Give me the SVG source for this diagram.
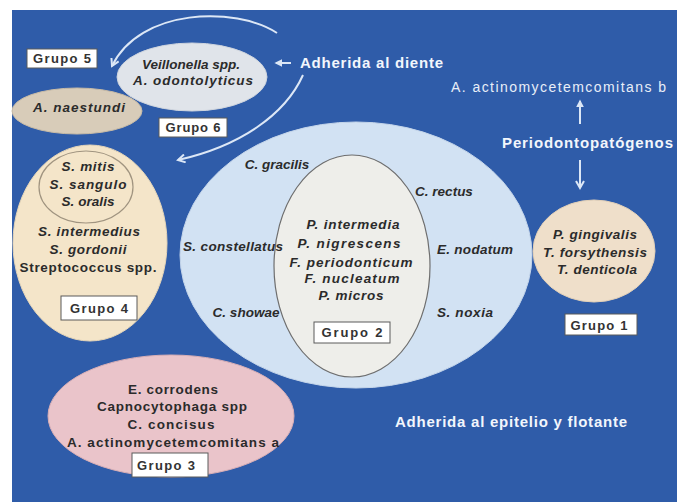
<svg xmlns="http://www.w3.org/2000/svg" width="677" height="502" viewBox="0 0 677 502">
<style>
.bg{fill:#2f5ca9}
.sp{font-family:"Liberation Sans",Arial,sans-serif;font-weight:bold;font-style:italic;font-size:13.5px;fill:#2b2b2b;text-anchor:middle}
.up{font-style:normal}
.wt{font-family:"Liberation Sans",Arial,sans-serif;font-weight:bold;font-size:15px;fill:#f2f6fc}
.wl{font-family:"Liberation Sans",Arial,sans-serif;font-size:14px;fill:#e8eef8}
.box{fill:#fff;stroke:#5a5a5a;stroke-width:1}
.gl{font-family:"Liberation Sans",Arial,sans-serif;font-weight:bold;font-size:13px;fill:#333;text-anchor:middle}
.conn{fill:none;stroke:#dce7f6;stroke-width:2}
</style>
<defs>
<marker id="chev" viewBox="0 0 10 10" refX="8" refY="5" markerWidth="5" markerHeight="5" orient="auto" markerUnits="strokeWidth">
<path d="M1,1 L8,5 L1,9" fill="none" stroke="#dce7f6" stroke-width="2"/>
</marker>
<marker id="tri" viewBox="0 0 10 10" refX="8" refY="5" markerWidth="4" markerHeight="4" orient="auto" markerUnits="strokeWidth">
<path d="M0,0 L10,5 L0,10 Z" fill="#dce7f6"/>
</marker>
</defs>
<rect x="0" y="0" width="677" height="502" fill="#fff"/>
<rect class="bg" x="12" y="10" width="665" height="492"/>

<g id="grupo2">
<ellipse cx="356" cy="255" rx="176" ry="133" fill="#d2e2f3" stroke="#c4d5ea" stroke-width="1"/>
<ellipse cx="352" cy="266" rx="78" ry="111" fill="#eeeeea" stroke="#6e6e6e" stroke-width="1.2"/>
<text class="sp" x="277" y="169">C. gracilis</text>
<text class="sp" x="444" y="196">C. rectus</text>
<text class="sp" x="233" y="251" textLength="100" lengthAdjust="spacing">S. constellatus</text>
<text class="sp" x="475" y="254" textLength="76" lengthAdjust="spacing">E. nodatum</text>
<text class="sp" x="246" y="317" textLength="67" lengthAdjust="spacing">C. showae</text>
<text class="sp" x="465" y="317" textLength="56" lengthAdjust="spacing">S. noxia</text>
<text class="sp" x="353" y="229" textLength="93" lengthAdjust="spacing">P. intermedia</text>
<text class="sp" x="349" y="248" textLength="103" lengthAdjust="spacing">P. nigrescens</text>
<text class="sp" x="351" y="267" textLength="123" lengthAdjust="spacing">F. periodonticum</text>
<text class="sp" x="352" y="283" textLength="95" lengthAdjust="spacing">F. nucleatum</text>
<text class="sp" x="351" y="300" textLength="65" lengthAdjust="spacing">P. micros</text>
<rect class="box" x="314" y="322" width="76" height="21"/>
<text class="gl" x="352" y="337" textLength="61" lengthAdjust="spacing">Grupo 2</text>
</g>

<g id="grupo4">
<ellipse cx="90" cy="243" rx="77" ry="98" fill="#f4e5c9" stroke="#e6d6b8" stroke-width="1"/>
<ellipse cx="86" cy="187" rx="47" ry="36" fill="#f4e5c9" stroke="#a09480" stroke-width="1.2"/>
<text class="sp" x="88" y="171" textLength="53" lengthAdjust="spacing">S. mitis</text>
<text class="sp" x="88" y="189" textLength="77" lengthAdjust="spacing">S. sangulo</text>
<text class="sp" x="88" y="206" textLength="53" lengthAdjust="spacing">S. oralis</text>
<text class="sp" x="89" y="236" textLength="102" lengthAdjust="spacing">S. intermedius</text>
<text class="sp" x="88" y="254" textLength="77" lengthAdjust="spacing">S. gordonii</text>
<text class="sp up" x="88" y="272" textLength="137" lengthAdjust="spacing">Streptococcus spp.</text>
<rect class="box" x="61" y="296" width="76" height="24"/>
<text class="gl" x="99" y="313" textLength="58" lengthAdjust="spacing">Grupo 4</text>
</g>

<g id="grupo3">
<ellipse cx="171" cy="416" rx="123" ry="61" fill="#eac4ca" stroke="#d8aeb5" stroke-width="1"/>
<text class="sp up" x="173" y="394" textLength="90" lengthAdjust="spacing">E. corrodens</text>
<text class="sp up" x="172" y="411" textLength="150" lengthAdjust="spacing">Capnocytophaga spp</text>
<text class="sp up" x="171" y="429" textLength="87" lengthAdjust="spacing">C. concisus</text>
<text class="sp up" x="173" y="447" textLength="212" lengthAdjust="spacing">A.  actinomycetemcomitans  a</text>
<rect class="box" x="132" y="453" width="76" height="24"/>
<text class="gl" x="166" y="470" textLength="58" lengthAdjust="spacing">Grupo 3</text>
</g>

<g id="grupo1">
<ellipse cx="594" cy="251" rx="61" ry="51" fill="#efdfca" stroke="#e2d0b8" stroke-width="1"/>
<text class="sp" x="595" y="239" textLength="84" lengthAdjust="spacing">P. gingivalis</text>
<text class="sp" x="595" y="257" textLength="104" lengthAdjust="spacing">T. forsythensis</text>
<text class="sp" x="597" y="274" textLength="80" lengthAdjust="spacing">T. denticola</text>
<rect class="box" x="565" y="314" width="72" height="21"/>
<text class="gl" x="599" y="330" textLength="57" lengthAdjust="spacing">Grupo 1</text>
</g>

<g id="grupo6">
<ellipse cx="192" cy="77" rx="75" ry="34" fill="#e0e4ea" stroke="#cfd5de" stroke-width="1"/>
<text class="sp" x="191" y="69" textLength="98" lengthAdjust="spacing">Veillonella spp.</text>
<text class="sp" x="193" y="85" textLength="120" lengthAdjust="spacing">A. odontolyticus</text>
<rect class="box" x="159" y="118" width="68" height="19"/>
<text class="gl" x="193" y="132" textLength="55" lengthAdjust="spacing">Grupo 6</text>
</g>

<g id="grupo5">
<ellipse cx="77" cy="111" rx="65" ry="23" fill="#d8ccb9" stroke="#c8bba6" stroke-width="1"/>
<text class="sp" x="79" y="112" textLength="92" lengthAdjust="spacing">A. naestundi</text>
<rect class="box" x="27" y="49" width="70" height="19"/>
<text class="gl" x="62" y="63" textLength="58" lengthAdjust="spacing">Grupo 5</text>
</g>

<g id="labels">
<text class="wt" x="300" y="68" textLength="143" lengthAdjust="spacing">Adherida al diente</text>
<text class="wl" x="451" y="92" textLength="215" lengthAdjust="spacing">A. actinomycetemcomitans b</text>
<text class="wt" x="502" y="148" textLength="171" lengthAdjust="spacing">Periodontopatógenos</text>
<text class="wt" x="395" y="427" textLength="232" lengthAdjust="spacing">Adherida al epitelio y flotante</text>
</g>

<g id="connectors">
<path class="conn" d="M277,33 C235,6 140,8 112,66" marker-end="url(#chev)"/>
<path class="conn" d="M303,75 C285,115 240,146 178,160" marker-end="url(#chev)"/>
<path class="conn" d="M291,63 L276,63" marker-end="url(#tri)"/>
<path class="conn" d="M580,124 L580,101" marker-end="url(#tri)"/>
<path class="conn" d="M580,160 L580,188" marker-end="url(#chev)"/>
</g>
</svg>
